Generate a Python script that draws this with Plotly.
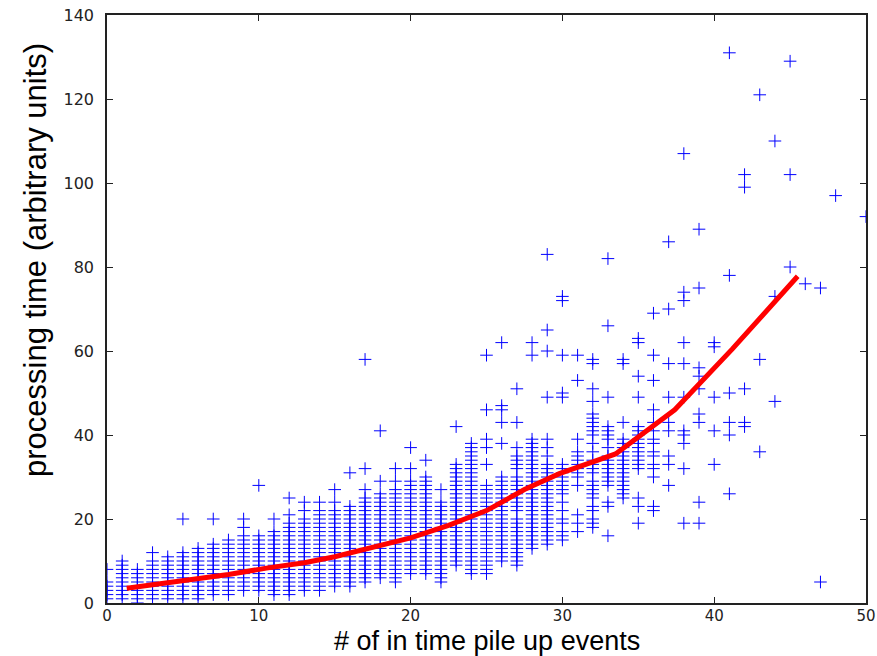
import plotly.graph_objects as go

# ---- scatter data: processing time per number of pile-up events (one list per x) ----
c0 = [1, 2, 3, 4, 5, 8]
c1 = [1, 2, 3, 4, 5, 6, 7, 8, 9, 10]
c2 = [0, 1, 2, 3, 4, 5, 6, 7, 8]
c3 = [1, 2, 3, 4, 5, 6, 7, 8, 9, 10, 12]
c4 = [1, 2, 3, 4, 5, 6, 7, 8, 9, 10, 11]
c5 = [1, 2, 3, 4, 5, 6, 7, 8, 9, 10, 11, 12, 20]
c6 = [1, 2, 3, 4, 5, 6, 7, 8, 9, 10, 11, 12, 13]
c7 = [2, 3, 4, 5, 6, 7, 8, 9, 10, 11, 12, 13, 14, 20]
c8 = [2, 3, 4, 5, 6, 7, 8, 9, 10, 11, 12, 13, 14, 15]
c9 = [3, 4, 5, 6, 7, 8, 9, 10, 11, 12, 13, 14, 15, 16, 18, 20]
c10 = [3, 4, 5, 6, 7, 8, 9, 10, 11, 12, 13, 14, 15, 16, 28]
c11 = [2, 3, 4, 5, 6, 7, 8, 9, 10, 11, 12, 13, 14, 15, 16, 17, 20]
c12 = [2, 3, 4, 5, 6, 7, 8, 9, 10, 11, 12, 13, 14, 15, 16, 17, 18, 19, 21, 25]
c13 = [3, 4, 5, 6, 7, 8, 9, 10, 11, 12, 13, 14, 15, 16, 17, 18, 19, 20, 22, 24]
c14 = [3, 4, 5, 6, 7, 8, 9, 10, 11, 12, 13, 14, 15, 16, 17, 18, 19, 20, 21, 22, 24]
c15 = [4, 5, 6, 7, 8, 9, 10, 11, 12, 13, 14, 15, 16, 17, 18, 19, 20, 21, 22, 24, 27]
c16 = [4, 5, 6, 7, 8, 9, 10, 11, 12, 13, 14, 15, 16, 17, 18, 19, 20, 21, 22, 23, 31]
c17 = [5, 6, 7, 8, 9, 10, 11, 12, 13, 14, 15, 16, 17, 18, 19, 20, 21, 22, 23, 24, 25,
       27, 32, 58]
c18 = [6, 7, 8, 9, 10, 11, 12, 13, 14, 15, 16, 17, 18, 19, 20, 21, 22, 23, 24, 25, 26,
       29, 41]
c19 = [5, 6, 7, 8, 9, 10, 11, 12, 13, 14, 15, 16, 17, 18, 19, 20, 21, 22, 23, 24, 25,
       26, 27, 29, 32]
c20 = [7, 8, 9, 10, 11, 12, 13, 14, 15, 16, 17, 18, 19, 20, 21, 22, 23, 24, 25, 26, 27,
       28, 29, 32, 37]
c21 = [7, 8, 9, 10, 11, 12, 13, 14, 15, 16, 17, 18, 19, 20, 21, 22, 23, 24, 25, 26, 27,
       28, 29, 30, 34]
c22 = [5, 6, 7, 8, 9, 10, 11, 12, 13, 14, 15, 16, 17, 18, 19, 20, 21, 22, 23, 24, 27]
c23 = [9, 10, 11, 12, 13, 14, 15, 16, 17, 18, 19, 20, 21, 22, 23, 24, 25, 26, 27, 28,
       29, 30, 31, 32, 33, 42]
c24 = [7, 8, 9, 10, 11, 12, 13, 14, 15, 16, 17, 18, 19, 20, 21, 22, 23, 24, 25, 26, 27,
       28, 29, 30, 31, 32, 33, 34, 35, 36, 37, 38]
c25 = [7, 8, 9, 10, 11, 12, 13, 14, 15, 16, 17, 18, 19, 20, 21, 22, 23, 24, 25, 26, 27,
       28, 33, 37, 39, 46, 59]
c26 = [10, 11, 12, 13, 14, 15, 16, 17, 18, 19, 20, 21, 22, 23, 24, 25, 26, 27, 28, 29,
       30, 38, 43, 46, 47, 62]
c27 = [9, 10, 11, 12, 13, 14, 15, 16, 17, 18, 19, 20, 22, 23, 24, 25, 26, 27, 28, 29,
       30, 32, 33, 34, 35, 37, 43, 51]
c28 = [13, 14, 15, 16, 17, 18, 19, 20, 21, 22, 23, 24, 25, 26, 27, 28, 29, 30, 31, 32,
       33, 34, 35, 36, 37, 38, 39, 59, 62]
c29 = [14, 15, 16, 17, 18, 19, 20, 21, 22, 23, 24, 25, 26, 27, 28, 29, 30, 31, 32, 33,
       35, 37, 39, 49, 60, 65, 83]
c30 = [15, 16, 17, 19, 20, 22, 24, 26, 27, 28, 29, 30, 31, 32, 33, 49, 50, 59, 72, 73]
c31 = [17, 19, 21, 28, 30, 31, 32, 33, 34, 35, 36, 39, 53, 59]
c32 = [18, 19, 20, 22, 23, 25, 26, 27, 28, 29, 31, 32, 33, 34, 36, 38, 40, 41, 42, 43,
       44, 45, 48, 51, 57, 58]
c33 = [16, 23, 24, 28, 29, 30, 31, 32, 33, 34, 35, 37, 39, 40, 41, 42, 49, 66, 82]
c34 = [25, 26, 27, 28, 29, 30, 31, 32, 33, 34, 35, 36, 37, 38, 39, 43, 57, 58]
c35 = [19, 23, 25, 32, 33, 34, 35, 36, 37, 38, 39, 40, 41, 42, 49, 54, 62, 63]
c36 = [22, 23, 30, 32, 33, 35, 36, 38, 39, 41, 43, 46, 53, 59, 69]
c37 = [28, 33, 35, 41, 43, 49, 57, 70, 86]
c38 = [19, 32, 38, 40, 41, 49, 57, 62, 72, 74, 107]
c39 = [19, 24, 43, 45, 51, 54, 56, 75, 89]
c40 = [33, 41, 49, 61, 62]
c41 = [26, 40, 43, 50, 78, 131]
c42 = [42, 43, 51, 99, 102]
c43 = [36, 58, 121]
c44 = [48, 73, 110]
c45 = [80, 102, 129]
c46 = [76]
c47 = [5, 75]
c48 = [97]
c50 = [92]

pileup_values = [0, 1, 2, 3, 4, 5, 6, 7, 8, 9, 10, 11, 12, 13, 14, 15, 16, 17, 18, 19,
                 20, 21, 22, 23, 24, 25, 26, 27, 28, 29, 30, 31, 32, 33, 34, 35, 36, 37,
                 38, 39, 40, 41, 42, 43, 44, 45, 46, 47, 48, 50]
time_columns = [c0, c1, c2, c3, c4, c5, c6, c7, c8, c9, c10, c11, c12, c13, c14, c15, c16,
                c17, c18, c19, c20, c21, c22, c23, c24, c25, c26, c27, c28, c29, c30, c31,
                c32, c33, c34, c35, c36, c37, c38, c39, c40, c41, c42, c43, c44, c45, c46,
                c47, c48, c50]

# ---- averaged trend (red line) ----
mean_x = [1.3, 5, 8, 10.5, 13, 15, 17.5, 20, 22.5, 25, 27.5, 29.8, 33.5, 37.4, 41.2, 45.5]
mean_y = [3.5, 5.2, 6.8, 8.3, 9.6, 11, 13.3, 15.5, 18.5, 22, 27, 30.8, 35.5, 46, 60.5, 77.8]

x_ticks = [0, 10, 20, 30, 40, 50]
y_ticks = [0, 20, 40, 60, 80, 100, 120, 140]

scatter_x, scatter_y = [], []
for xv, col in zip(pileup_values, time_columns):
    for yv in col:
        scatter_x.append(xv)
        scatter_y.append(yv)

fig = go.Figure()
fig.add_trace(go.Scatter(
    x=scatter_x, y=scatter_y, mode="markers",
    marker=dict(symbol="cross-thin", size=9, line=dict(color="blue", width=1), color="blue"),
    hoverinfo="skip", showlegend=False))
fig.add_trace(go.Scatter(
    x=mean_x, y=mean_y, mode="lines",
    line=dict(color="red", width=5), showlegend=False))

axis_common = dict(
    showline=True, linecolor="#222222", linewidth=1.5, mirror="allticks",
    ticks="inside", ticklen=6, tickwidth=1, tickcolor="#222222",
    showgrid=False, zeroline=False, automargin=False,
    tickfont=dict(family="DejaVu Sans", size=16, color="#222222"),
)
fig.update_xaxes(range=[0, 50], tickvals=x_ticks, ticklabelstandoff=-2,
                 **{**axis_common, "tickfont": dict(family="DejaVu Sans", size=15, color="#222222")})
fig.update_yaxes(range=[0, 140], tickvals=y_ticks, ticklabelstandoff=8, **axis_common)

fig.update_layout(
    width=877, height=656,
    margin=dict(l=107, r=11, t=15, b=53),
    paper_bgcolor="white", plot_bgcolor="white",
    annotations=[
        dict(text="# of in time pile up events", xref="paper", yref="paper",
             x=0.5, y=0, xanchor="center", yanchor="top", yshift=-21, showarrow=False,
             font=dict(family="Liberation Sans", size=27, color="black")),
        dict(text="processing time (arbitrary units)", xref="paper", yref="paper",
             x=0, y=0.5, xanchor="center", yanchor="middle", xshift=-72, yshift=49,
             textangle=-90, showarrow=False,
             font=dict(family="Liberation Sans", size=31, color="black")),
    ],
)

fig.write_html("out.html")
